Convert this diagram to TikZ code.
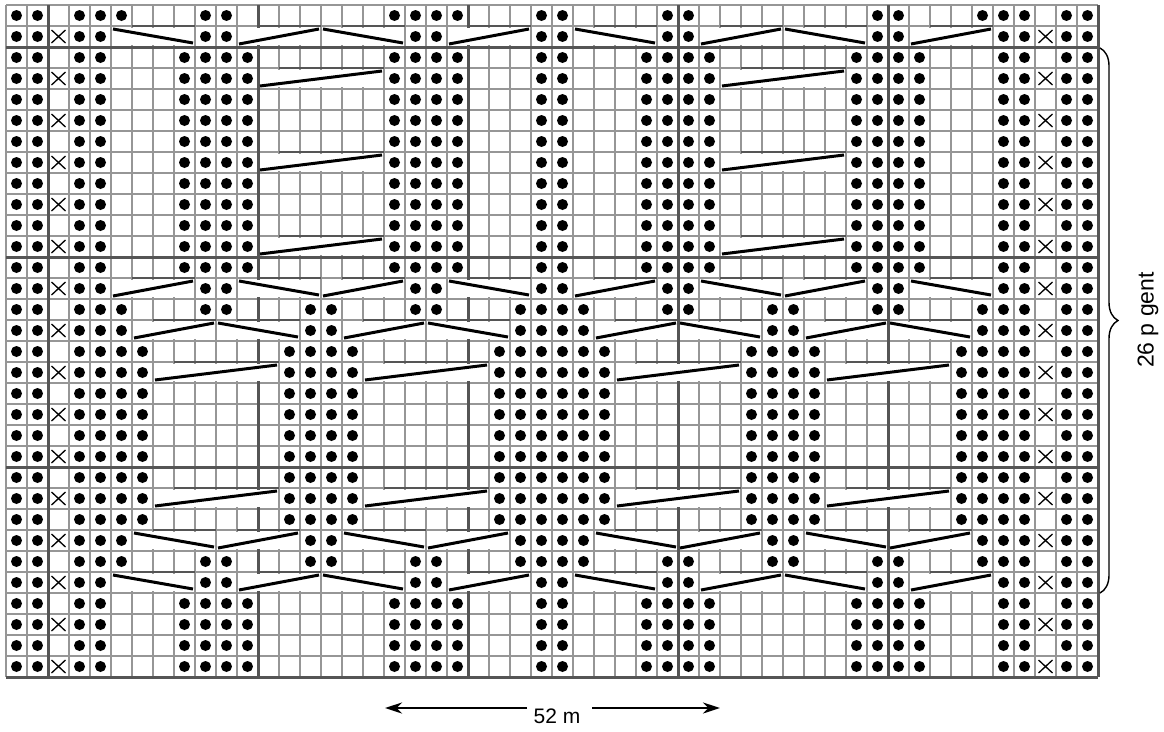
\documentclass[tikz,border=0pt]{standalone}
\usepackage{fontspec}
\setmainfont{Liberation Sans}
\usetikzlibrary{decorations.pathreplacing,arrows.meta}
\definecolor{gridgray}{RGB}{150,150,150}
\definecolor{thickgray}{RGB}{85,85,85}
\def\rowA{0,1,3,4,8,9,10,11,18,19,20,21,25,26,30,31,32,33,40,41,42,43,47,48,50,51}
\def\rowZ{0,1,3,4,5,9,10,18,19,20,21,25,26,31,32,41,42,46,47,48,50,51}
\def\rowB{0,1,3,4,9,10,19,20,25,26,31,32,41,42,47,48,50,51}
\def\rowC{0,1,3,4,5,9,10,14,15,19,20,24,25,26,27,31,32,36,37,41,42,46,47,48,50,51}
\def\rowD{0,1,3,4,5,14,15,24,25,26,27,36,37,46,47,48,50,51}
\def\rowE{0,1,3,4,5,6,13,14,15,16,23,24,25,26,27,28,35,36,37,38,45,46,47,48,50,51}
\newcommand\cabl[4]{%
  \pgfmathsetmacro\cxl{6+21*#2}%
  \pgfmathsetmacro\cxr{6+21*(#3+1)}%
  \pgfmathsetmacro\cyt{5+21*#1}%
  \pgfmathsetmacro\cyb{5+21*(#1+1)}%
  \fill[white] (\cxl+1.6,\cyt+1.6) rectangle (\cxr-1.6,\cyb-1.6);%
  \draw[cabtop] (\cxl+21,\cyt) -- (\cxr,\cyt);%
  \ifnum#4=0
    \draw[cabline] (\cxl+2,\cyt+3) -- (\cxr-2,\cyb-4);%
  \else
    \draw[cabline] (\cxl+2,\cyb-3) -- (\cxr-2,\cyt+3);%
  \fi}
\begin{document}
\begin{tikzpicture}[x=1pt,y=-1pt,
  gridline/.style={draw=gridgray, line width=1.3pt},
  thickline/.style={draw=thickgray, line width=3pt},
  cabtop/.style={draw=thickgray, line width=2pt},
  cabline/.style={draw=black, line width=3pt},
  xmark/.style={draw=black, line width=1.3pt},
  lbl/.style={font=\fontsize{21}{25}\selectfont, inner sep=0pt},
  arrowline/.style={draw=black, line width=2.5pt, -{Stealth[length=17pt,width=11pt]}}]
\useasboundingbox (0,0) rectangle (1164,731);
\fill[white] (0,0) rectangle (1164,731);
% thin grid
\foreach \i in {0,...,52} \draw[gridline] (6+21*\i,5) -- (6+21*\i,677);
\foreach \j in {0,...,32} \draw[gridline] (6,5+21*\j) -- (1098,5+21*\j);
% thick verticals
\foreach \i in {2,12,22,32,42,52} \draw[thickline] (6+21*\i,5) -- (6+21*\i,677);
% cables
\foreach \r in {1,27} {\foreach \ca/\cb/\cs in {5/8/0,11/14/1,15/18/0,21/24/1,27/30/0,33/36/1,37/40/0,43/46/1} {\cabl{\r}{\ca}{\cb}{\cs}}}
\foreach \ca/\cb/\cs in {5/8/1,11/14/0,15/18/1,21/24/0,27/30/1,33/36/0,37/40/1,43/46/0} {\cabl{13}{\ca}{\cb}{\cs}}
\foreach \r in {3,7,11} {\foreach \ca/\cb/\cs in {12/17/1,34/39/1} {\cabl{\r}{\ca}{\cb}{\cs}}}
\foreach \ca/\cb/\cs in {6/9/1,10/13/0,16/19/1,20/23/0,28/31/1,32/35/0,38/41/1,42/45/0} {\cabl{15}{\ca}{\cb}{\cs}}
\foreach \ca/\cb/\cs in {6/9/0,10/13/1,16/19/0,20/23/1,28/31/0,32/35/1,38/41/0,42/45/1} {\cabl{25}{\ca}{\cb}{\cs}}
\foreach \r in {17,23} {\foreach \ca/\cb/\cs in {7/12/1,17/22/1,29/34/1,39/44/1} {\cabl{\r}{\ca}{\cb}{\cs}}}
% thick horizontals
\foreach \j in {2,12,22,32} \draw[thickline] (6,5+21*\j) -- (1098,5+21*\j);
% purl dots
\foreach \c in \rowZ {\fill (16.5+21*\c,15.5) circle (5.5pt);}
\foreach \r in {1,13,27} {\foreach \c in \rowB {\fill (16.5+21*\c,15.5+21*\r) circle (5.5pt);}}
\foreach \r in {2,3,4,5,6,7,8,9,10,11,12,28,29,30,31} {\foreach \c in \rowA {\fill (16.5+21*\c,15.5+21*\r) circle (5.5pt);}}
\foreach \r in {14,26} {\foreach \c in \rowC {\fill (16.5+21*\c,15.5+21*\r) circle (5.5pt);}}
\foreach \r in {15,25} {\foreach \c in \rowD {\fill (16.5+21*\c,15.5+21*\r) circle (5.5pt);}}
\foreach \r in {16,17,18,19,20,21,22,23,24} {\foreach \c in \rowE {\fill (16.5+21*\c,15.5+21*\r) circle (5.5pt);}}
% X marks
\foreach \r in {1,3,...,31} {\foreach \c in {2,49} {\draw[xmark] (16.5+21*\c-7,15.5+21*\r-6.5) -- ++(14,13) (16.5+21*\c-7,15.5+21*\r+6.5) -- ++(14,-13);}}
% brace and label
\coordinate (braceTop) at (1100,48);
\coordinate (braceBot) at (1100,593);
\draw[line width=1.4pt, decorate, decoration={brace, amplitude=18pt}] (braceTop) -- (braceBot);
\node[lbl, font=\fontsize{23}{27}\selectfont, rotate=90] (rep) at (1148,320) {26 p gent};
% width arrow
\node[lbl] (width) at (557,716) {52 m};
\coordinate (aLs) at (527,708);
\coordinate (aLe) at (385,708);
\coordinate (aRs) at (592,708);
\coordinate (aRe) at (720,708);
\draw[arrowline] (aLs) -- (aLe);
\draw[arrowline] (aRs) -- (aRe);
\end{tikzpicture}
\end{document}
